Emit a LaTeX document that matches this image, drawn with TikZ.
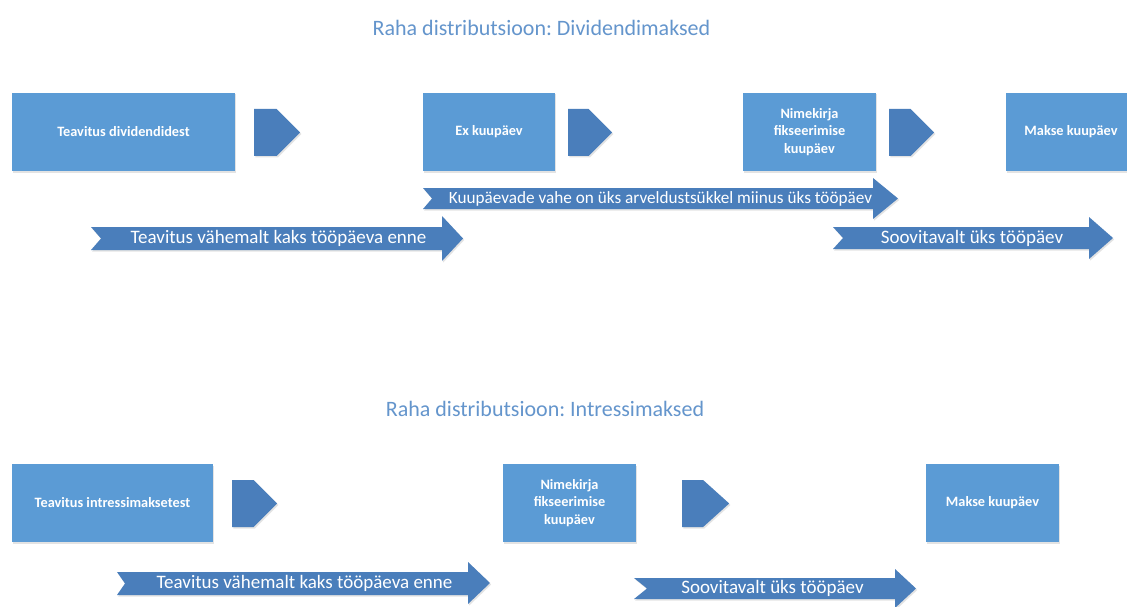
\documentclass[tikz,border=0pt]{standalone}
\usepackage{fontspec}
\setmainfont{Carlito}
\usetikzlibrary{shapes.symbols,shadows}
\definecolor{boxblue}{HTML}{5B9BD5}
\definecolor{darkblue}{HTML}{4A7EBB}
\definecolor{titleblue}{HTML}{6495CC}
\frenchspacing
\begin{document}
\begin{tikzpicture}[x=1pt,y=-1pt,
  softshadow/.style={drop shadow={opacity=0.22,shadow xshift=1.2pt,shadow yshift=-1.5pt}},
  stepbox/.style={fill=boxblue,draw=none,text=white,inner sep=2pt,align=center,
    font=\bfseries\fontsize{14.3}{17.5}\selectfont,minimum height=78pt,softshadow},
  chevron/.style={signal,signal to=east,signal pointer angle=90,fill=darkblue,draw=none,
    minimum width=46pt,minimum height=47pt,inner sep=0pt,anchor=west,softshadow},
  band/.style={fill=darkblue,draw=none,softshadow},
  bandtext/.style={text=white,inner sep=0pt,font=\fontsize{#1}{20}\selectfont},
  bandtext/.default=19,
  heading/.style={text=titleblue,inner sep=0pt,font=\fontsize{22}{25}\selectfont}]
\useasboundingbox (0,0) rectangle (1127,607);
\fill[white] (0,0) rectangle (1127,607);

% ---------- Dividendimaksed ----------
\node[heading] (t1) at (541.5,28) {Raha distributsioon: Dividendimaksed};

\node[stepbox,minimum width=223pt] (d1) at (123.5,132) {Teavitus dividendidest};
\node[chevron] (c1) at (254,132.5) {};
\node[stepbox,minimum width=132pt] (d2) at (489,132) {Ex kuupäev};
\node[chevron,minimum width=44pt] (c2) at (568,132.5) {};
\node[stepbox,minimum width=133pt] (d3) at (809.5,132) {Nimekirja\\fikseerimise\\kuupäev};
\node[chevron,minimum width=45pt] (c3) at (889,132.5) {};
\node[stepbox,minimum width=130pt] (d4) at (1071,132) {Makse kuupäev};

% notched band arrows
\fill[band] (423,188) -- (873,188) -- (873,178) -- (898,198.5) -- (873,219)
  -- (873,209) -- (423,209) -- (432,198.5) -- cycle;
\node[bandtext=17.2] (a1) at (660.5,198.5) {Kuupäevade vahe on üks arveldustsükkel miinus üks tööpäev};

\fill[band] (91,227) -- (442,227) -- (442,216) -- (463,238.5) -- (442,261)
  -- (442,250) -- (91,250) -- (101,238.5) -- cycle;
\node[bandtext] (a2) at (278.5,238.5) {Teavitus vähemalt kaks tööpäeva enne};

\fill[band] (833,227) -- (1089,227) -- (1089,217) -- (1113,238) -- (1089,259)
  -- (1089,249) -- (833,249) -- (843,238) -- cycle;
\node[bandtext] (a3) at (972,238) {Soovitavalt üks tööpäev};

% ---------- Intressimaksed ----------
\node[heading] (t2) at (545,409) {Raha distributsioon: Intressimaksed};

\node[stepbox,minimum width=201pt] (i1) at (112.5,503) {Teavitus intressimaksetest};
\node[chevron,minimum width=45pt] (c4) at (232,503.5) {};
\node[stepbox,minimum width=133pt] (i2) at (569.5,503) {Nimekirja\\fikseerimise\\kuupäev};
\node[chevron,minimum width=47pt,signal pointer angle=84] (c5) at (682,503.5) {};
\node[stepbox,minimum width=133pt] (i3) at (992.5,503) {Makse kuupäev};

\fill[band] (117,572) -- (468,572) -- (468,562) -- (490,583) -- (468,604)
  -- (468,595) -- (117,595) -- (125,583.5) -- cycle;
\node[bandtext] (b1) at (304.5,583.5) {Teavitus vähemalt kaks tööpäeva enne};

\fill[band] (634,578) -- (895,578) -- (895,569) -- (916,588.5) -- (895,608)
  -- (895,599) -- (634,599) -- (647,588.5) -- cycle;
\node[bandtext] (b2) at (772.5,588.5) {Soovitavalt üks tööpäev};
\end{tikzpicture}
\end{document}
